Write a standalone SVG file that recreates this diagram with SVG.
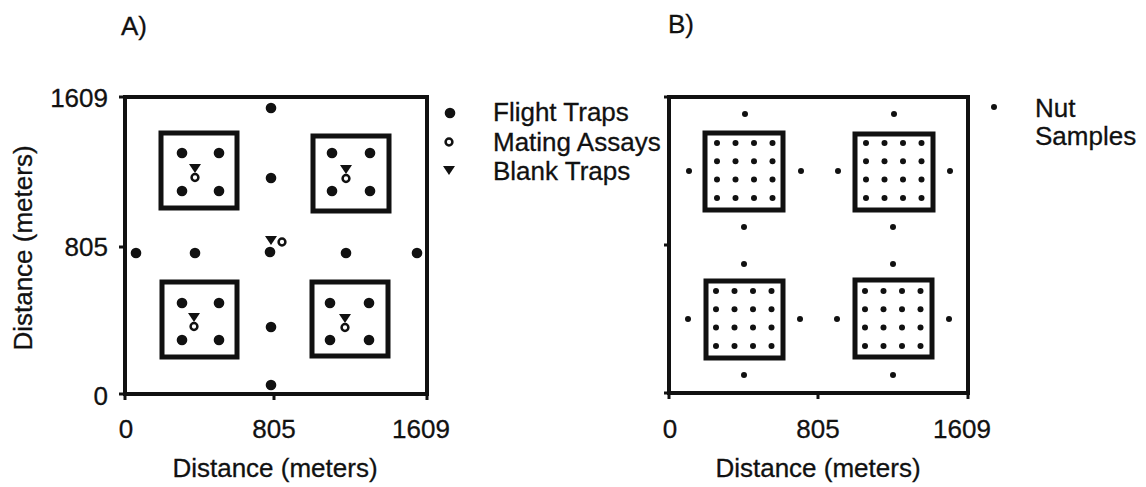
<svg xmlns="http://www.w3.org/2000/svg" width="1146" height="487" viewBox="0 0 1146 487">
  <style>
    text { font-family: "Liberation Sans", Arial, sans-serif; font-size: 26px; fill: #111; stroke: #111; stroke-width: 0.3; }
    .mid { text-anchor: middle; }
    .end { text-anchor: end; }
    .frame { fill: none; stroke: #111; stroke-width: 4; }
    .plot { fill: none; stroke: #111; stroke-width: 5; }
    .tick { stroke: #111; stroke-width: 3; }
    .trap { fill: #111; }
    .assay { fill: #fff; stroke: #111; stroke-width: 2.5; }
    .nut { fill: #111; }
  </style>
  <defs>
    <circle id="ft" r="5.3" class="trap"/>
    <circle id="ma" r="3.4" class="assay"/>
    <polygon id="bt" points="-6,-4 6,-4 0,5" fill="#111"/>
    <circle id="ns" r="3" class="nut"/>
    <!-- blank trap stacked on a mating assay -->
    <g id="combo">
      <use href="#bt" x="0" y="0"/>
      <use href="#ma" x="0" y="9.5"/>
    </g>
    <!-- 4 x 4 sample grid -->
    <g id="grid">
      <use href="#ns" x="0" y="0"/><use href="#ns" x="18.5" y="0"/><use href="#ns" x="37" y="0"/><use href="#ns" x="55.5" y="0"/>
      <use href="#ns" x="0" y="18.3"/><use href="#ns" x="18.5" y="18.3"/><use href="#ns" x="37" y="18.3"/><use href="#ns" x="55.5" y="18.3"/>
      <use href="#ns" x="0" y="36.6"/><use href="#ns" x="18.5" y="36.6"/><use href="#ns" x="37" y="36.6"/><use href="#ns" x="55.5" y="36.6"/>
      <use href="#ns" x="0" y="55"/><use href="#ns" x="18.5" y="55"/><use href="#ns" x="37" y="55"/><use href="#ns" x="55.5" y="55"/>
    </g>
  </defs>

  <!-- Panel A -->
  <g id="panelA">
    <text x="121" y="35">A)</text>
    <rect class="frame" x="125" y="97" width="302" height="297"/>
    <g id="axesA">
      <line class="tick" x1="119" y1="97" x2="125" y2="97"/>
      <line class="tick" x1="119" y1="247" x2="125" y2="247"/>
      <line class="tick" x1="119" y1="394" x2="125" y2="394"/>
      <line class="tick" x1="125" y1="394" x2="125" y2="400"/>
      <line class="tick" x1="274" y1="394" x2="274" y2="400"/>
      <line class="tick" x1="427" y1="394" x2="427" y2="400"/>
      <text class="end" x="108" y="107">1609</text>
      <text class="end" x="108" y="256">805</text>
      <text class="end" x="108" y="405">0</text>
      <text class="mid" x="126" y="438">0</text>
      <text class="mid" x="274" y="438">805</text>
      <text class="mid" x="421" y="438">1609</text>
      <text class="mid" x="275" y="477">Distance (meters)</text>
      <text class="mid" transform="translate(32,248) rotate(-90)">Distance (meters)</text>
    </g>
    <g id="plotsA">
      <rect class="plot" x="161" y="133" width="76" height="75"/>
      <rect class="plot" x="313" y="136" width="76" height="75"/>
      <rect class="plot" x="162" y="282" width="75" height="75"/>
      <rect class="plot" x="312" y="282" width="76" height="74"/>
    </g>
    <g id="trapsA">
      <use href="#ft" x="182" y="153"/><use href="#ft" x="219" y="153"/>
      <use href="#ft" x="182" y="191"/><use href="#ft" x="219" y="191"/>
      <use href="#ft" x="332" y="153"/><use href="#ft" x="370" y="153"/>
      <use href="#ft" x="332" y="191"/><use href="#ft" x="370" y="191"/>
      <use href="#ft" x="182" y="303"/><use href="#ft" x="219" y="303"/>
      <use href="#ft" x="182" y="340"/><use href="#ft" x="219" y="340"/>
      <use href="#ft" x="330" y="303"/><use href="#ft" x="369" y="303"/>
      <use href="#ft" x="330" y="340"/><use href="#ft" x="369" y="340"/>
      <!-- centre transect -->
      <use href="#ft" x="271" y="108"/>
      <use href="#ft" x="271" y="178"/>
      <use href="#ft" x="270" y="252"/>
      <use href="#ft" x="271" y="327"/>
      <use href="#ft" x="271" y="385"/>
      <use href="#ft" x="136" y="253"/>
      <use href="#ft" x="195" y="253"/>
      <use href="#ft" x="346" y="253"/>
      <use href="#ft" x="417" y="253"/>
      <!-- assays and blank traps -->
      <use href="#combo" x="195" y="168"/>
      <use href="#combo" x="346" y="169"/>
      <use href="#combo" x="194" y="317"/>
      <use href="#combo" x="345" y="318"/>
      <use href="#bt" x="271" y="240"/>
      <use href="#ma" x="282" y="242"/>
    </g>
  </g>

  <!-- Legend A -->
  <g id="legendA">
    <use href="#ft" x="450" y="113"/>
    <use href="#ma" x="449" y="142"/>
    <use href="#bt" x="449" y="170"/>
    <text x="493" y="121">Flight Traps</text>
    <text x="493" y="151">Mating Assays</text>
    <text x="493" y="180">Blank Traps</text>
  </g>

  <!-- Panel B -->
  <g id="panelB">
    <text x="668" y="33">B)</text>
    <rect class="frame" x="669" y="97" width="299" height="296"/>
    <g id="axesB">
      <line class="tick" x1="664" y1="97" x2="669" y2="97"/>
      <line class="tick" x1="664" y1="245" x2="669" y2="245"/>
      <line class="tick" x1="664" y1="393" x2="669" y2="393"/>
      <line class="tick" x1="669" y1="393" x2="669" y2="399"/>
      <line class="tick" x1="818" y1="393" x2="818" y2="399"/>
      <line class="tick" x1="968" y1="393" x2="968" y2="399"/>
      <text class="mid" x="670" y="438">0</text>
      <text class="mid" x="818" y="438">805</text>
      <text class="mid" x="962" y="438">1609</text>
      <text class="mid" x="818" y="477">Distance (meters)</text>
    </g>
    <g id="plotsB">
      <rect class="plot" x="705" y="133" width="78" height="77"/>
      <rect class="plot" x="855" y="134" width="78" height="76"/>
      <rect class="plot" x="706" y="281" width="77" height="77"/>
      <rect class="plot" x="855" y="280" width="77" height="77"/>
    </g>
    <g id="samplesB">
      <use href="#grid" x="717" y="143"/>
      <use href="#grid" x="866" y="143"/>
      <use href="#grid" x="716" y="291"/>
      <use href="#grid" x="865" y="291"/>
      <use href="#ns" x="745" y="114"/><use href="#ns" x="894" y="114"/>
      <use href="#ns" x="689" y="171"/><use href="#ns" x="801" y="171"/>
      <use href="#ns" x="838" y="171"/><use href="#ns" x="950" y="171"/>
      <use href="#ns" x="744" y="227"/><use href="#ns" x="893" y="227"/>
      <use href="#ns" x="744" y="264"/><use href="#ns" x="893" y="264"/>
      <use href="#ns" x="688" y="319"/><use href="#ns" x="800" y="319"/>
      <use href="#ns" x="837" y="319"/><use href="#ns" x="949" y="319"/>
      <use href="#ns" x="744" y="375"/><use href="#ns" x="893" y="375"/>
    </g>
  </g>

  <!-- Legend B -->
  <g id="legendB">
    <use href="#ns" x="994" y="107"/>
    <text x="1035" y="117">Nut</text>
    <text x="1035" y="145">Samples</text>
  </g>
</svg>
